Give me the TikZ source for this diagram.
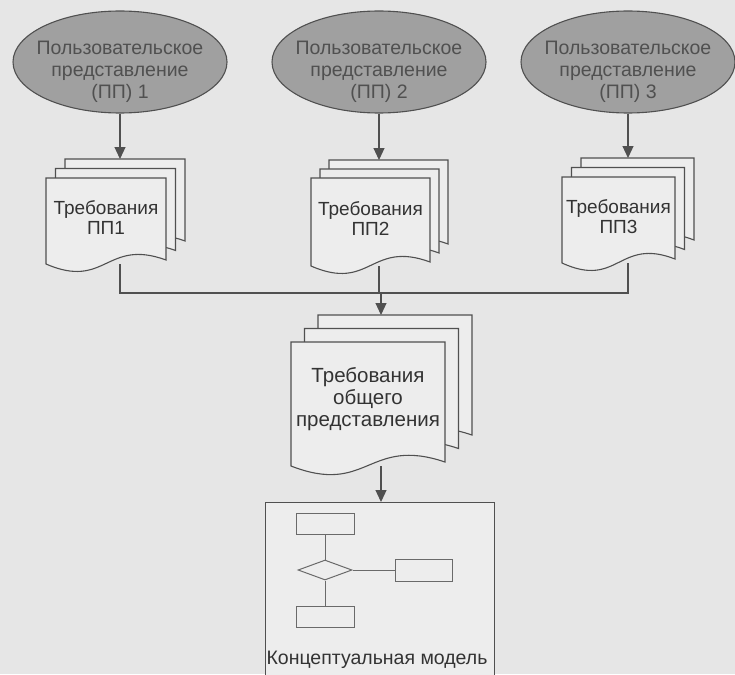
\documentclass[tikz,border=0pt]{standalone}
\usepackage{fontspec}
\setmainfont{Liberation Sans}
\usetikzlibrary{arrows.meta,shapes.geometric}

\definecolor{paper}{HTML}{E6E6E6}
\definecolor{sheet}{HTML}{EDEDED}
\definecolor{ink}{HTML}{505050}
\definecolor{oval}{HTML}{A0A0A0}
\definecolor{ovaltext}{HTML}{505050}
\definecolor{bodytext}{HTML}{333333}

\tikzset{
  line/.style={draw=ink, line width=1.2pt},
  arr/.style={line, -{Triangle[width=11pt,length=12pt]}},
  sheetpath/.style={draw=ink, line width=1.1pt, fill=sheet},
  viewoval/.style={ellipse, draw=ink, line width=1.1pt, fill=oval,
    minimum width=214pt, minimum height=102pt, inner sep=0pt},
  ovallabel/.style={inner sep=0pt, text=ovaltext, align=center,
    font=\fontsize{19.5}{22}\selectfont},
  doctext/.style={inner sep=0pt, align=center, text=bodytext},
  pagebox/.style={inner sep=0pt, anchor=north west},
  thin shape/.style={draw=ink!85, line width=1pt},
}

% one sheet of a document: left, top, width, height (left edge), wave depth
\newcommand{\docsheet}[5]{%
  \filldraw[sheetpath] (#1,#2) -- (#1+#3,#2) -- (#1+#3,#2+#4-4)
    .. controls (#1+0.5*#3,#2+#4-#5) and (#1+0.5*#3,#2+#4+#5) .. (#1,#2+#4) -- cycle;}

% stack of three sheets: name, left, top, width, height, step, wave, font size, text
\newcommand{\docstack}[9]{%
  \docsheet{#2+2*#6}{#3-2*#6}{#4}{#5}{#7}
  \node[pagebox, minimum width=#4, minimum height=#5] (#1b) at (#2+2*#6,#3-2*#6) {};
  \docsheet{#2+#6}{#3-#6}{#4}{#5}{#7}
  \docsheet{#2}{#3}{#4}{#5}{#7}
  \node[pagebox, minimum width=#4, minimum height=#5] (#1f) at (#2,#3) {};
  \node[doctext, font=\fontsize{#8}{1.08\dimexpr#8pt\relax}\selectfont] (#1) at (#2+0.5*#4,#3+0.46*#5) {#9};}

\begin{document}
\begin{tikzpicture}[x=1pt,y=-1pt]
  \useasboundingbox[fill=paper] (0,0) rectangle (735,674);
  \clip (0,0) rectangle (735,674);

  % user views
  \node[viewoval] (e1) at (120,62) {};
  \node[viewoval] (e2) at (379,62) {};
  \node[viewoval] (e3) at (628,62) {};
  \node[ovallabel] (t1) at (120,72) {Пользовательское\\представление\\(ПП) 1};
  \node[ovallabel] (t2) at (379,72) {Пользовательское\\представление\\(ПП) 2};
  \node[ovallabel] (t3) at (628,72) {Пользовательское\\представление\\(ПП) 3};

  % requirement documents of each view
  \docstack{d1}{46}{178}{120}{86}{9.5}{26}{19}{Требования\\ПП1}
  \docstack{d2}{311}{178}{119}{88}{9}{26}{19}{Требования\\ПП2}
  \docstack{d3}{562}{177}{113}{86}{9.5}{26}{19}{Требования\\ПП3}

  % merged requirements
  \docstack{D}{291}{342}{154}{124}{13.5}{30}{20.5}{Требования\\общего\\представления}

  % conceptual model frame with its small flowchart
  \node[draw=ink, line width=1.1pt, fill=sheet, inner sep=0pt, anchor=north west,
        minimum width=229pt, minimum height=200pt] (cm) at (265,502) {};
  \node[thin shape, minimum width=58pt, minimum height=21pt, inner sep=0pt] (b1) at (325,523.5) {};
  \node[thin shape, diamond, aspect=2.7, minimum width=54pt, minimum height=20pt, inner sep=0pt] (dm) at (325,570) {};
  \node[thin shape, minimum width=57pt, minimum height=22pt, inner sep=0pt] (b2) at (423.5,570) {};
  \node[thin shape, minimum width=58pt, minimum height=21pt, inner sep=0pt] (b3) at (325,616.5) {};
  \draw[thin shape] (b1) -- (dm);
  \draw[thin shape] (dm) -- (b3);
  \draw[thin shape] (dm) -- (b2);
  \node[text=bodytext, font=\fontsize{19.5}{22}\selectfont] (cmlabel) at (377,660) {Концептуальная модель};

  % connectors
  \coordinate (bus) at (381,293);
  \draw[arr] (e1.south) -- (e1.south |- d1b.north);
  \draw[arr] (e2.south) -- (e2.south |- d2b.north);
  \draw[arr] (e3.south) -- (e3.south |- d3b.north);
  \draw[line] (e1.south |- d1f.south) |- (e3.south |- bus) -- (e3.south |- d3f.south);
  \draw[line] (e2.south |- d2f.south) -- (e2.south |- bus);
  \draw[arr] (bus) -- (bus |- Db.north);
  \draw[arr] (bus |- Df.south) -- (bus |- cm.north);
\end{tikzpicture}
\end{document}
